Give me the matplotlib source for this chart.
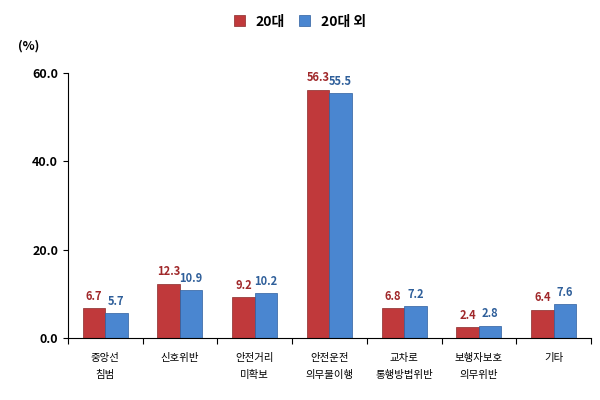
import matplotlib
matplotlib.use("Agg")
import matplotlib.pyplot as plt
import numpy as np

plt.rcParams['font.family'] = ['Noto Sans CJK KR', 'DejaVu Sans']

categories = ["중앙선\n침범", "신호위반", "안전거리\n미확보", "안전운전\n의무불이행", "교차로\n통행방법위반", "보행자보호\n의무위반", "기타"]
s20 = [6.7, 12.3, 9.2, 56.3, 6.8, 2.4, 6.4]
sother = [5.7, 10.9, 10.2, 55.5, 7.2, 2.8, 7.6]
names = ["20대", "20대 외"]

fig = plt.figure(figsize=(6, 4), dpi=100)
ax = fig.add_axes([0.113, 0.155, 0.872, 0.662])
x = np.arange(len(categories))
w = 0.3
c1, c2 = "#C0393B", "#4A86D0"
ax.bar(x - w/2, s20, w, color=c1, label=names[0], edgecolor="#8a2a2a", linewidth=0.5)
ax.bar(x + w/2, sother, w, color=c2, label=names[1], edgecolor="#2d5e9e", linewidth=0.5)
for xi, v in zip(x - w/2, s20):
    ax.text(xi, v + 1.2, f"{v:.1f}", ha="center", va="bottom", fontsize=8, color="#A0282A", fontweight="bold")
for xi, v in zip(x + w/2, sother):
    ax.text(xi, v + 1.2, f"{v:.1f}", ha="center", va="bottom", fontsize=8, color="#2F5F9A", fontweight="bold")
ax.set_xlim(-0.5, len(categories) - 0.5)
ax.set_ylim(0, 60)
ax.set_yticks([0, 20, 40, 60])
ax.set_yticklabels(["0.0", "20.0", "40.0", "60.0"], fontsize=9, fontweight="bold")
ax.set_xticks(np.arange(len(categories) + 1) - 0.5, minor=False)
ax.set_xticklabels([])
ax.tick_params(axis="x", length=4, direction="out")
for xi, c in zip(x, categories):
    ax.text(xi, -3.5, c, ha="center", va="top", fontsize=7.5, linespacing=1.8)
for s in ["top", "right"]:
    ax.spines[s].set_visible(False)
fig.text(0.03, 0.875, "(%)", fontsize=9, fontweight="bold")
fig.legend(loc="upper center", bbox_to_anchor=(0.5, 0.995), ncol=2, frameon=False,
           handlelength=0.8, handleheight=0.8, columnspacing=1.0,
           prop={'weight': 'bold', 'size': 10})
fig.savefig("out.png")
